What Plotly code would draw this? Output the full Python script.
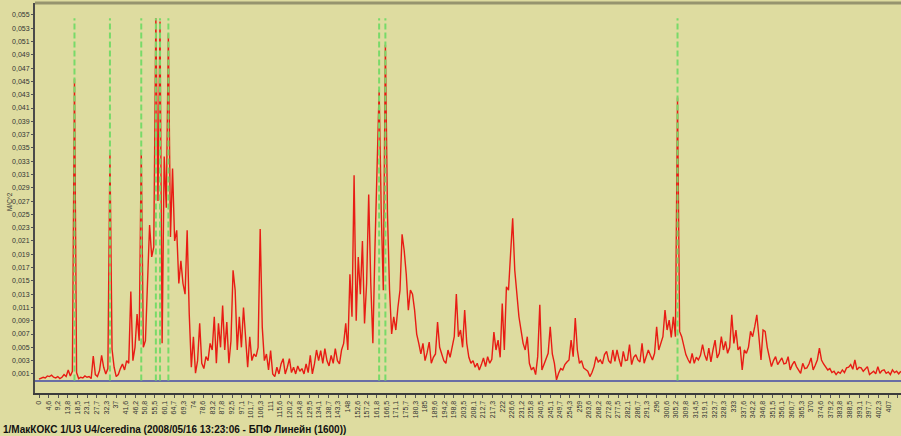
import numpy as np
import plotly.graph_objects as go

# Spectrum amplitude, mm/s^2 (= 0.001 m/s^2), one value per 1 Hz bin starting at 0 Hz
amplitude_mm_s2 = [
    0.2, 0.4, 0.5, 0.4, 0.7, 0.6, 0.8, 0.5, 0.4, 0.6,
    0.3, 0.5, 0.9, 0.6, 1.6, 0.7, 1.4, 45.4, 1.2, 0.3,
    0.5, 0.4, 0.7, 0.5, 0.6, 0.3, 3.7, 0.9, 0.6, 1.5,
    3.8, 2.0, 1.0, 1.8, 34.2, 4.7, 2.0, 0.6, 0.9, 1.8,
    2.5, 1.6, 3.0, 2.6, 13.4, 3.0, 5.0, 10.0, 6.0, 34.7,
    5.0, 6.0, 15.6, 23.4, 18.6, 20.1, 54.5, 27.0, 54.0, 5.6,
    33.7, 26.0, 52.2, 21.6, 31.9, 21.0, 22.6, 14.6, 18.0, 14.6,
    13.0, 22.6, 10.0, 2.0, 6.6, 1.1, 3.0, 8.6, 2.6, 1.8,
    3.6, 3.0, 5.6, 4.6, 9.6, 2.6, 8.6, 5.0, 11.3, 4.6,
    8.8, 2.6, 6.0, 16.6, 13.6, 4.6, 9.6, 5.0, 11.0, 6.0,
    2.0, 6.6, 3.0, 4.0, 3.6, 5.0, 22.8, 8.0, 3.0, 4.0,
    1.6, 4.5, 1.0, 0.6, 2.0, 1.0, 2.5, 3.3, 1.0, 2.0,
    3.3, 1.2, 2.0, 1.0, 2.2, 1.4, 1.8, 1.0, 2.5, 1.2,
    3.8, 1.0, 2.5, 4.6, 3.0, 4.5, 2.6, 4.8, 3.0, 2.2,
    3.8, 2.6, 4.8, 3.0, 2.5, 4.6, 5.6, 8.6, 4.6, 16.0,
    9.6, 30.9, 9.0, 18.6, 13.0, 21.0, 8.6, 14.6, 28.0, 14.6,
    5.6, 20.0, 31.0, 43.7, 25.6, 13.6, 50.5, 25.0, 13.6, 7.0,
    9.6, 7.6, 11.0, 13.6, 22.0, 19.6, 16.0, 10.6, 13.6, 13.0,
    10.6, 7.0, 5.6, 4.0, 5.6, 3.0, 4.2, 5.8, 2.6, 3.5,
    4.0, 8.8, 5.0, 4.0, 3.0, 2.6, 4.6, 3.5, 5.0, 6.6,
    13.0, 6.6, 7.6, 5.0, 10.6, 5.6, 3.5, 2.6, 3.0, 2.0,
    2.6, 1.6, 2.4, 3.4, 2.1, 3.6, 2.6, 3.2, 7.3, 4.6,
    6.1, 3.5, 11.6, 4.6, 14.1, 13.6, 19.1, 24.4, 16.6, 12.6,
    9.6, 7.6, 5.6, 4.6, 6.6, 2.6, 1.6, 2.0, 0.9, 3.6,
    11.4, 1.6, 2.4, 3.1, 4.1, 8.1, 4.0, 2.6, 0.1, 1.1,
    1.8, 1.6, 2.4, 2.8, 3.1, 6.1, 3.6, 9.4, 4.6, 2.6,
    3.0, 1.9, 1.6, 1.4, 0.6, 1.2, 2.1, 3.6, 2.8, 3.1,
    2.5, 3.9, 4.4, 3.0, 2.6, 4.6, 2.9, 4.6, 3.2, 2.1,
    4.4, 3.0, 3.1, 5.4, 2.4, 3.5, 3.9, 3.1, 2.8, 5.6,
    2.6, 3.5, 4.6, 3.8, 3.1, 4.1, 8.1, 4.6, 5.5, 6.6,
    10.6, 7.6, 9.1, 6.5, 9.6, 6.6, 42.6, 7.4, 6.6, 5.1,
    3.9, 3.2, 2.6, 4.1, 2.6, 3.5, 3.1, 3.8, 5.4, 3.9,
    3.0, 4.9, 2.8, 4.6, 6.1, 3.4, 4.1, 6.6, 4.6, 5.9,
    4.1, 5.0, 9.9, 5.6, 7.6, 4.6, 5.1, 1.6, 4.6, 4.1,
    5.0, 7.4, 6.6, 8.1, 9.9, 6.6, 3.1, 7.6, 7.4, 5.0,
    3.6, 2.1, 3.0, 3.6, 2.4, 3.0, 3.4, 2.5, 2.6, 3.6,
    1.6, 2.4, 2.9, 2.1, 1.6, 1.1, 2.6, 1.8, 1.9, 2.5,
    3.4, 1.6, 2.3, 3.1, 4.9, 3.1, 2.5, 2.1, 1.6, 1.8,
    1.2, 1.4, 0.9, 1.3, 1.1, 1.6, 1.2, 1.9, 2.0, 2.4,
    1.7, 3.1, 1.6, 2.0, 1.9, 1.4, 1.7, 2.1, 0.9, 1.2,
    1.4, 1.0, 2.1, 1.1, 1.5, 1.6, 1.1, 1.3, 0.9, 1.6,
    1.2, 1.4, 1.0, 1.4,
]
freq_step_hz = 1.0

# Harmonic marker cursors (Hz) and their height (m/s^2)
marker_freqs_hz = [17, 34, 49, 56, 58, 62, 163, 166, 306]
marker_top = 0.0545

y_tick_labels = [
    "0,001", "0,003", "0,005", "0,007", "0,009", "0,011", "0,013", "0,015",
    "0,017", "0,019", "0,021", "0,023", "0,025", "0,027", "0,029", "0,031",
    "0,033", "0,035", "0,037", "0,039", "0,041", "0,043", "0,045", "0,047",
    "0,049", "0,051", "0,053", "0,055",
]
x_tick_labels = [
    "0", "4,6", "9,2", "13,8", "18,5", "23,1", "27,7", "32,3", "37", "41,6",
    "46,2", "50,8", "55,5", "60,1", "64,7", "69,3", "74", "78,6", "83,2", "87,8",
    "92,5", "97,1", "101,7", "106,3", "111", "115,6", "120,2", "124,8", "129,5", "134,1",
    "138,7", "143,3", "148", "152,6", "157,2", "161,8", "166,5", "171,1", "175,7", "180,3",
    "185", "189,6", "194,2", "198,8", "203,5", "208,1", "212,7", "217,3", "222", "226,6",
    "231,2", "235,8", "240,5", "245,1", "249,7", "254,3", "259", "263,6", "268,2", "272,8",
    "277,5", "282,1", "286,7", "291,3", "296", "300,6", "305,2", "309,8", "314,5", "319,1",
    "323,7", "328,3", "333", "337,6", "342,2", "346,8", "351,5", "356,1", "360,7", "365,3",
    "370", "374,6", "379,2", "383,8", "388,5", "393,1", "397,7", "402,3", "407", "411,6",
]

y_title = "М/С^2"
caption = "1/МакКОКС 1/U3 U4/ceredina (2008/05/16 13:23:06 - БПФ Линейн (1600))"

freqs = np.arange(len(amplitude_mm_s2)) * freq_step_hz
amps = np.array(amplitude_mm_s2) / 1000.0  # mm/s^2 -> m/s^2

mx, my = [], []
for f in marker_freqs_hz:
    mx += [f, f, None]
    my += [0, marker_top, None]

BG = "rgb(222,220,160)"

fig = go.Figure()
fig.add_trace(go.Scatter(x=freqs, y=amps, mode="lines",
                         line=dict(color="rgb(232,28,20)", width=1.4),
                         hoverinfo="x+y", showlegend=False))
fig.add_trace(go.Scatter(x=mx, y=my, mode="lines",
                         line=dict(color="rgb(120,218,105)", width=2, dash="6px,3px"),
                         hoverinfo="skip", showlegend=False))

fig.update_layout(
    width=901, height=436,
    margin=dict(l=35, r=0, t=3, b=43, autoexpand=False),
    paper_bgcolor=BG, plot_bgcolor=BG,
    font=dict(family="Liberation Sans, Arial, sans-serif", color="#333"),
    showlegend=False,
)
fig.update_xaxes(
    range=[-1.92, 413.1], showgrid=False, zeroline=False, automargin=False,
    showline=True, linecolor="#3c3c3c", linewidth=2,
    tickmode="array",
    tickvals=[float(t.replace(",", ".")) for t in x_tick_labels],
    ticktext=x_tick_labels,
    tickangle=-90, ticks="outside", ticklen=3, tickcolor="#555",
    tickfont=dict(size=7, color="#333"),
)
fig.update_yaxes(
    range=[-0.00187, 0.0568], showgrid=False, automargin=False,
    zeroline=True, zerolinecolor="rgb(105,110,165)", zerolinewidth=2,
    showline=True, linecolor="#4a4a4a", linewidth=2,
    tickmode="array",
    tickvals=[float(t.replace(",", ".")) for t in y_tick_labels],
    ticktext=y_tick_labels,
    ticks="outside", ticklen=2, tickcolor="#555",
    tickfont=dict(size=7, color="#333"),
)
# top border of the plot frame
fig.add_shape(type="line", xref="paper", yref="paper", x0=0, x1=1, y0=1, y1=1,
              line=dict(color="rgb(150,148,110)", width=3))

fig.add_annotation(text=y_title, xref="paper", yref="paper",
                   x=-0.035, y=0.49, textangle=-90, showarrow=False,
                   font=dict(size=6.5, color="#333"))
fig.add_annotation(text="<b>" + caption + "</b>", xref="paper", yref="paper",
                   x=-0.0395, y=-0.093, xanchor="left", yanchor="middle",
                   showarrow=False, font=dict(size=10, color="#111"))

fig.write_html("out.html", config={"displayModeBar": False})

# remove the default page margin so the 901x436 figure fills the window exactly
with open("out.html", encoding="utf-8") as fh:
    html = fh.read()
html = html.replace("<head>", "<head><style>html,body{margin:0;padding:0;overflow:hidden;background:%s}</style>" % BG, 1)
with open("out.html", "w", encoding="utf-8") as fh:
    fh.write(html)
